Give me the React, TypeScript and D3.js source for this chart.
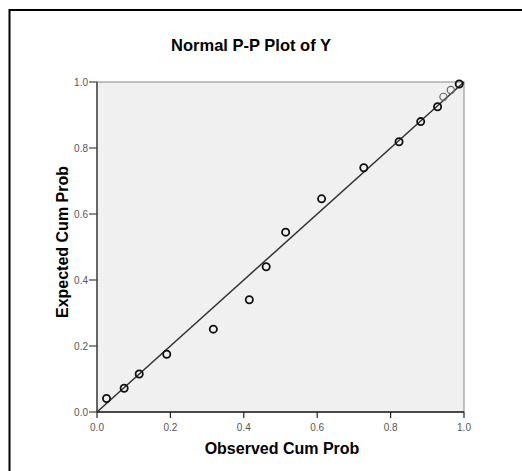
import * as d3 from "d3";

const WIDTH = 522;
const HEIGHT = 471;

// observed cumulative probability (x) and expected cumulative probability (y)
const observed = [0.026, 0.074, 0.115, 0.19, 0.317, 0.415, 0.461, 0.514, 0.612, 0.727, 0.823, 0.882, 0.928, 0.944, 0.964, 0.987];
const expected = [0.041, 0.072, 0.115, 0.175, 0.251, 0.34, 0.44, 0.545, 0.646, 0.74, 0.819, 0.88, 0.925, 0.955, 0.976, 0.994];
// the last few circles are drawn lighter in the original
const faint = [false, false, false, false, false, false, false, false, false, false, false, false, false, true, true, false];
const tickValues = [0, 0.2, 0.4, 0.6, 0.8, 1.0];

const FONT = "Arial, 'Liberation Sans', Helvetica, sans-serif";

export default function App() {
  const left = 97;
  const right = 464;
  const top = 82;
  const bottom = 412;

  const x = d3.scaleLinear().domain([0, 1]).range([left, right]);
  const y = d3.scaleLinear().domain([0, 1]).range([bottom, top]);

  const refLine = d3.line<number>()
    .x((d) => x(d))
    .y((d) => y(d))([0, 1]);

  return (
    <svg
      width={WIDTH}
      height={HEIGHT}
      style={{ position: "absolute", left: 0, top: 0, background: "#fff" }}
      fontFamily={FONT}
    >
      {/* outer frame, runs off the right and bottom edges */}
      <rect x={9.5} y={10} width={WIDTH} height={HEIGHT} fill="none" stroke="#000" strokeWidth={2} />

      <text x={251} y={51} textAnchor="middle" fontSize={16.5} fontWeight="bold">
        Normal P-P Plot of Y
      </text>

      {/* plot area */}
      <rect x={left} y={top} width={right - left} height={bottom - top} fill="#f0f0f0" stroke="#888" strokeWidth={1} />

      {/* axis lines */}
      <line x1={left} x2={left} y1={top} y2={bottom} stroke="#666" strokeWidth={2} />
      <line x1={left} x2={right} y1={bottom} y2={bottom} stroke="#222" strokeWidth={1.5} />

      {/* x ticks */}
      {tickValues.map((t) => (
        <g key={"x" + t}>
          <line x1={x(t)} x2={x(t)} y1={bottom} y2={bottom + 6} stroke="#222" strokeWidth={1.2} />
          <text x={x(t)} y={bottom + 19} textAnchor="middle" fontSize={10} fill="#555">
            {t.toFixed(1)}
          </text>
        </g>
      ))}

      {/* y ticks */}
      {tickValues.map((t) => (
        <g key={"y" + t}>
          <line x1={left - 8} x2={left} y1={y(t)} y2={y(t)} stroke="#444" strokeWidth={1.2} />
          <text x={left - 9} y={y(t)} dy="0.35em" textAnchor="end" fontSize={10} fill="#555">
            {t.toFixed(1)}
          </text>
        </g>
      ))}

      {/* axis titles */}
      <text x={282} y={454} textAnchor="middle" fontSize={16} fontWeight="bold">
        Observed Cum Prob
      </text>
      <text
        transform={`translate(${68},${242}) rotate(-90)`}
        textAnchor="middle"
        fontSize={16}
        fontWeight="bold"
      >
        Expected Cum Prob
      </text>

      {/* reference diagonal */}
      <path d={refLine ?? ""} stroke="#333" strokeWidth={1.5} fill="none" />

      {/* points */}
      {observed.map((o, i) => (
        <circle
          key={i}
          cx={x(o)}
          cy={y(expected[i])}
          r={3.6}
          fill="none"
          stroke={faint[i] ? "#666" : "#111"}
          strokeWidth={faint[i] ? 1.2 : 1.8}
        />
      ))}
    </svg>
  );
}
